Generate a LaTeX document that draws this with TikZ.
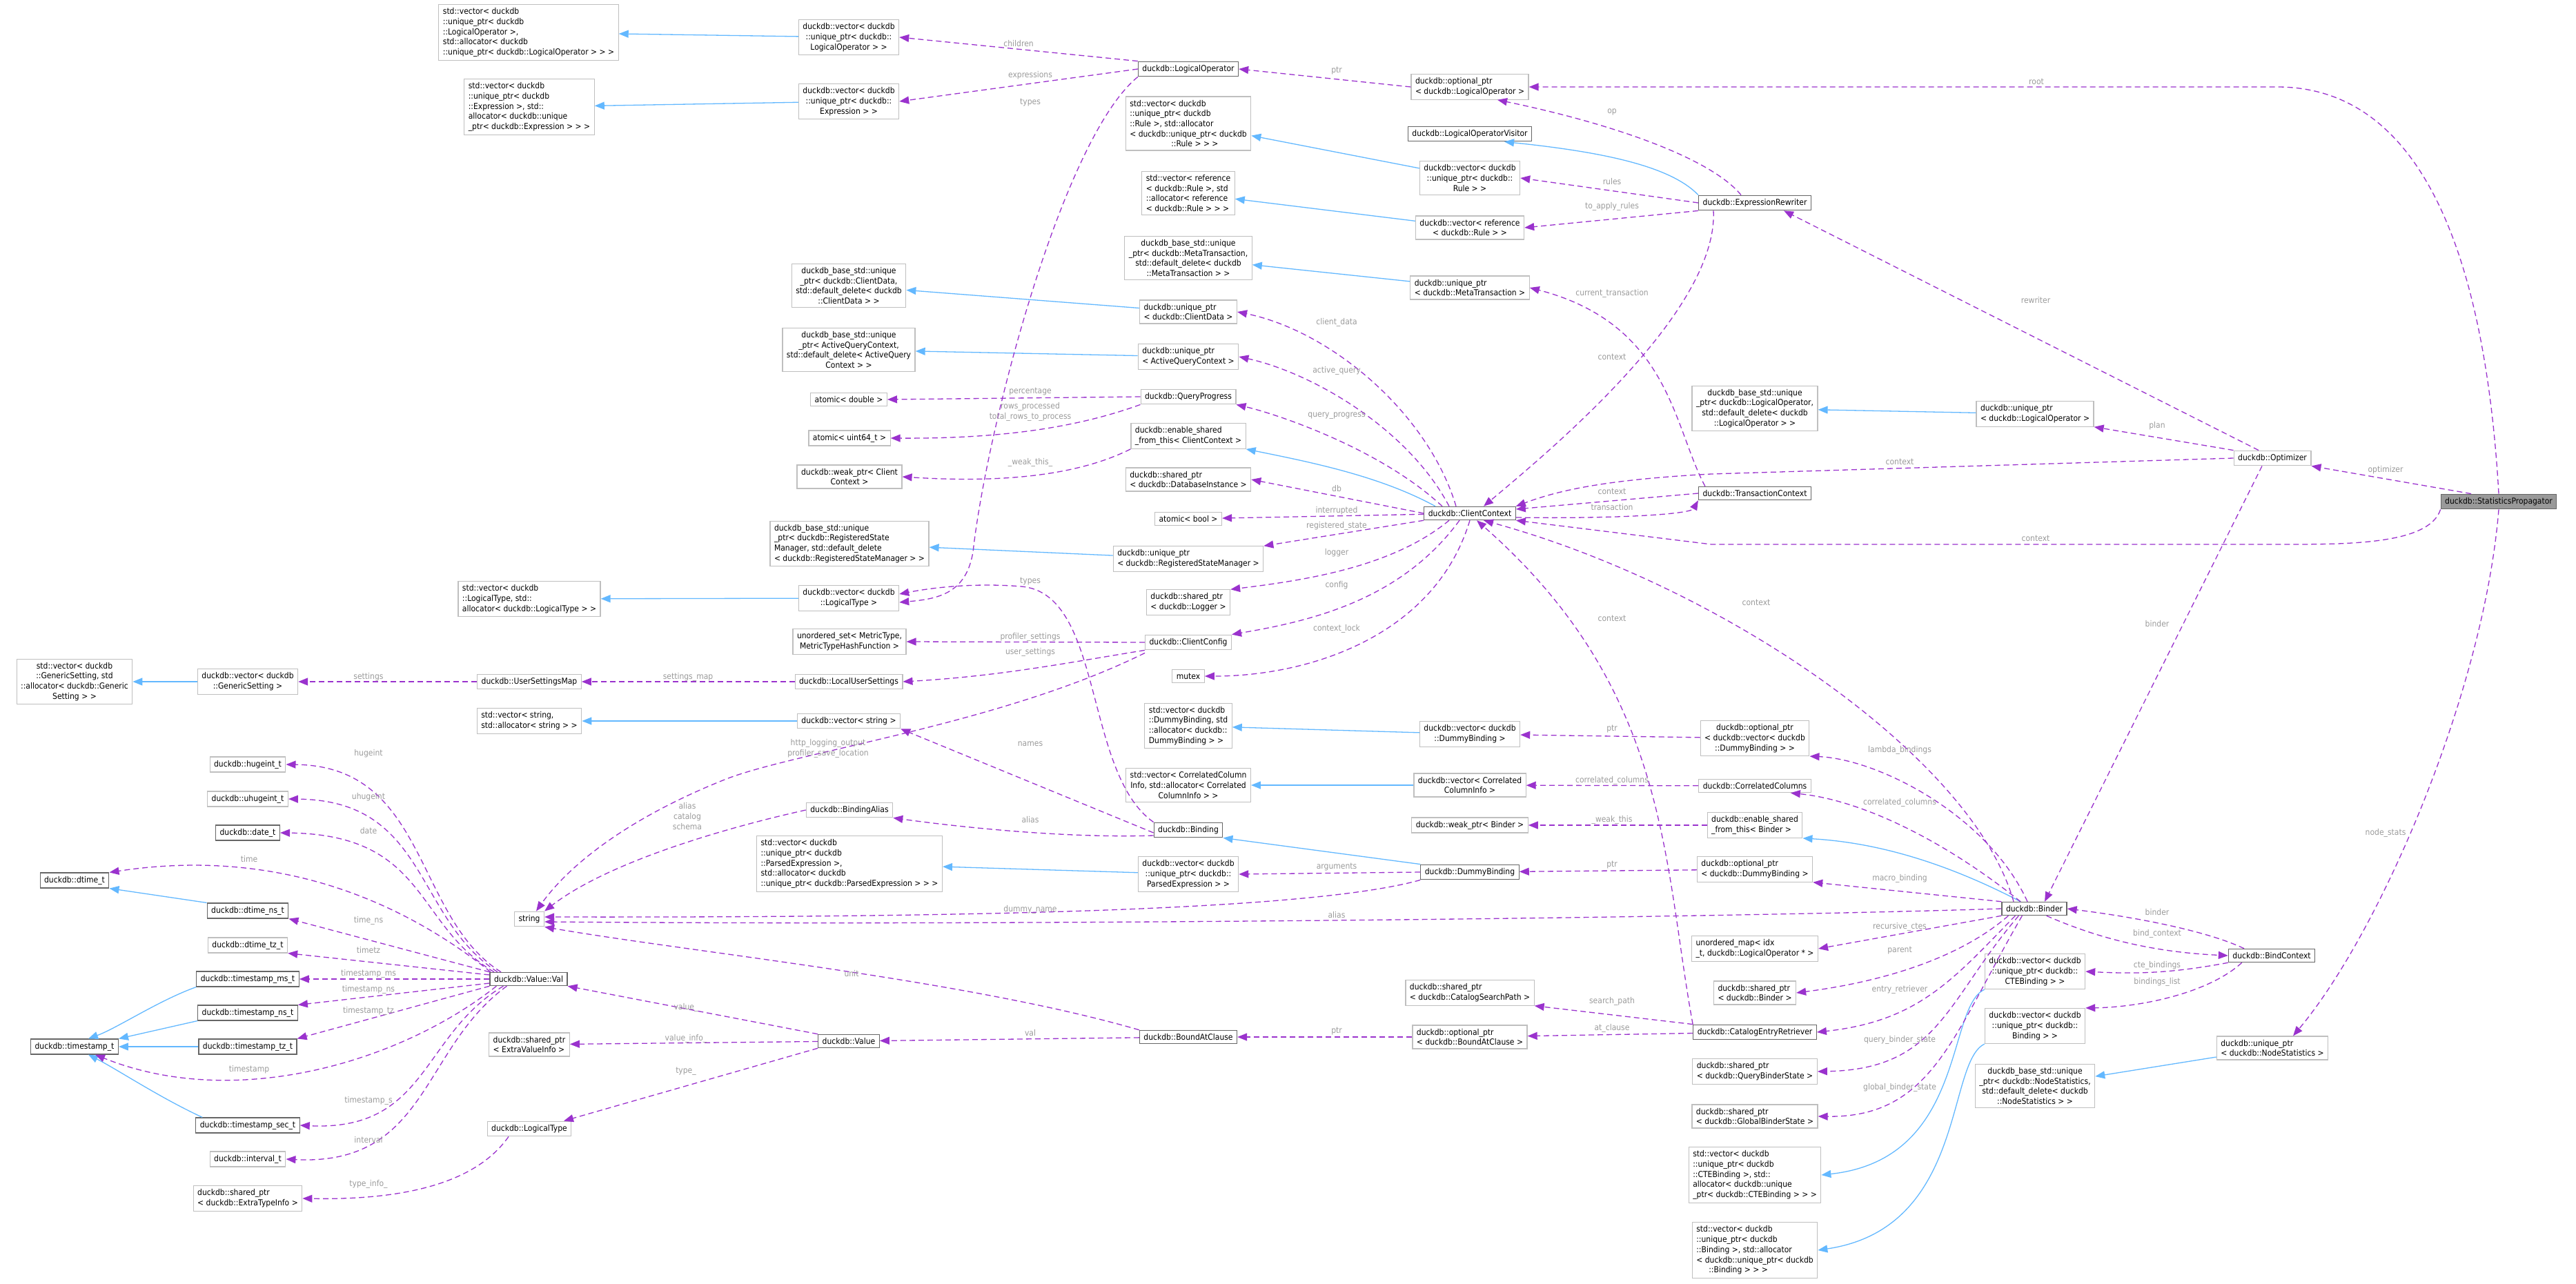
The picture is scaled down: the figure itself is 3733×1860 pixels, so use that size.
\documentclass[tikz,border=0pt]{standalone}
\usepackage{fontspec}
\setmainfont{DejaVu Sans}[FakeStretch=0.9]
\usetikzlibrary{arrows.meta}
\definecolor{depc}{HTML}{9A32CD}
\definecolor{inhc}{HTML}{63B8FF}
\definecolor{lblc}{HTML}{9A9A9A}
\definecolor{boxc}{HTML}{BFBFBF}
\definecolor{darkc}{HTML}{666666}
\definecolor{spc}{HTML}{999999}
\begin{document}
\begin{tikzpicture}[x=1pt,y=-1pt,
  every node/.style={font=\fontsize{12}{14.7}\selectfont},
  box/.style={draw=boxc,line width=1.2pt,fill=white,inner xsep=6pt,inner ysep=5pt,align=center},
  lbox/.style={box,align=left},
  cls/.style={box,draw=darkc},
  dep/.style={draw=depc,line width=1.3pt,dash pattern=on 8pt off 5pt,-{Triangle[length=14pt,width=11pt,fill=depc]}},
  inh/.style={draw=inhc,line width=1.3pt,-{Triangle[length=14pt,width=11pt,fill=inhc]}},
  lbl/.style={text=lblc,inner sep=1pt,align=center}]
\useasboundingbox (0,0) rectangle (3733,1860);
% ---------- nodes ----------
\node[lbox] (LOstd) at (766,47) {std::vector< duckdb\\::unique\_ptr< duckdb\\::LogicalOperator >,\\ std::allocator< duckdb\\::unique\_ptr< duckdb::LogicalOperator > > >};
\node[lbox] (ExprStd) at (767,155) {std::vector< duckdb\\::unique\_ptr< duckdb\\::Expression >, std::\\allocator< duckdb::unique\\\_ptr< duckdb::Expression > > >};
\node[box] (vecLO) at (1230,54) {duckdb::vector< duckdb\\::unique\_ptr< duckdb::\\LogicalOperator > >};
\node[box] (vecExpr) at (1230,147) {duckdb::vector< duckdb\\::unique\_ptr< duckdb::\\Expression > >};
\node[cls] (LO) at (1722,100) {duckdb::LogicalOperator};
\node[lbox] (optLO) at (2130,126) {duckdb::optional\_ptr\\< duckdb::LogicalOperator >};
\node[cls] (LOV) at (2130,194) {duckdb::LogicalOperatorVisitor};
\node[lbox] (vecRuleStd) at (1722,179) {std::vector< duckdb\\::unique\_ptr< duckdb\\::Rule >, std::allocator\\< duckdb::unique\_ptr< duckdb\\\hspace*{5em}::Rule > > >};
\node[box] (vecUR) at (2130,258) {duckdb::vector< duckdb\\::unique\_ptr< duckdb::\\Rule > >};
\node[lbox] (vecRRStd) at (1722,280) {std::vector< reference\\< duckdb::Rule >, std\\::allocator< reference\\< duckdb::Rule > > >};
\node[box] (vecRR) at (2130,330) {duckdb::vector< reference\\< duckdb::Rule > >};
\node[cls] (ER) at (2543,294) {duckdb::ExpressionRewriter};
\node[box] (baseMT) at (1722,374) {duckdb\_base\_std::unique\\\_ptr< duckdb::MetaTransaction,\\std::default\_delete< duckdb\\::MetaTransaction > >};
\node[lbox] (uMT) at (2130,417) {duckdb::unique\_ptr\\< duckdb::MetaTransaction >};
\node[box] (baseCD) at (1230,414) {duckdb\_base\_std::unique\\\_ptr< duckdb::ClientData,\\std::default\_delete< duckdb\\::ClientData > >};
\node[lbox] (uCD) at (1722,452) {duckdb::unique\_ptr\\< duckdb::ClientData >};
\node[box] (baseAQC) at (1230,507) {duckdb\_base\_std::unique\\\_ptr< ActiveQueryContext,\\std::default\_delete< ActiveQuery\\Context > >};
\node[lbox] (uAQC) at (1722,517) {duckdb::unique\_ptr\\< ActiveQueryContext >};
\node[box] (aDouble) at (1230,579) {atomic< double >};
\node[box] (QP) at (1722,575) {duckdb::QueryProgress};
\node[box] (aU64) at (1231,635) {atomic< uint64\_t >};
\node[lbox] (esCC) at (1722,632) {duckdb::enable\_shared\\\_from\_this< ClientContext >};
\node[box] (weakCC) at (1231,691) {duckdb::weak\_ptr< Client\\Context >};
\node[lbox] (sDB) at (1722,695) {duckdb::shared\_ptr\\< duckdb::DatabaseInstance >};
\node[box] (aBool) at (1722,752) {atomic< bool >};
\node[cls] (CC) at (2130,744) {duckdb::ClientContext};
\node[cls] (TC) at (2543,715) {duckdb::TransactionContext};
\node[box] (baseLO) at (2543,592) {duckdb\_base\_std::unique\\\_ptr< duckdb::LogicalOperator,\\std::default\_delete< duckdb\\::LogicalOperator > >};
\node[lbox] (uLO) at (2949,600) {duckdb::unique\_ptr\\< duckdb::LogicalOperator >};
\node[box] (Opt) at (3293,664) {duckdb::Optimizer};
\node[box,draw=darkc,fill=spc] (SP) at (3621,727) {duckdb::StatisticsPropagator};
\node[lbox] (baseRSM) at (1231,788) {duckdb\_base\_std::unique\\\_ptr< duckdb::RegisteredState\\Manager, std::default\_delete\\< duckdb::RegisteredStateManager > >};
\node[lbox] (uRSM) at (1722,810) {duckdb::unique\_ptr\\< duckdb::RegisteredStateManager >};
\node[lbox] (vecLTstd) at (767,868) {std::vector< duckdb\\::LogicalType, std::\\allocator< duckdb::LogicalType > >};
\node[box] (vecLT) at (1230,867) {duckdb::vector< duckdb\\::LogicalType >};
\node[lbox] (sLog) at (1722,873) {duckdb::shared\_ptr\\< duckdb::Logger >};
\node[box] (uSet) at (1231,930) {unordered\_set< MetricType,\\MetricTypeHashFunction >};
\node[box] (CCfg) at (1722,931) {duckdb::ClientConfig};
\node[box] (vecGSstd) at (108,988) {std::vector< duckdb\\::GenericSetting, std\\::allocator< duckdb::Generic\\Setting > >};
\node[box] (vecGS) at (359,988) {duckdb::vector< duckdb\\::GenericSetting >};
\node[box] (USM) at (767,988) {duckdb::UserSettingsMap};
\node[box] (LUS) at (1230,988) {duckdb::LocalUserSettings};
\node[box] (mutex) at (1722,980) {mutex};
\node[lbox] (vecStrStd) at (767,1045) {std::vector< string,\\ std::allocator< string > >};
\node[box] (vecStr) at (1230,1045) {duckdb::vector< string >};
\node[lbox] (vecDStd) at (1722,1052) {std::vector< duckdb\\::DummyBinding, std\\::allocator< duckdb::\\DummyBinding > >};
\node[box] (vecD) at (2130,1064) {duckdb::vector< duckdb\\::DummyBinding >};
\node[box] (optDV) at (2543,1070) {duckdb::optional\_ptr\\< duckdb::vector< duckdb\\::DummyBinding > >};
\node[box] (huge) at (359,1108) {duckdb::hugeint\_t};
\node[box] (uhuge) at (359,1158) {duckdb::uhugeint\_t};
\node[cls] (date) at (359,1207) {duckdb::date\_t};
\node[box] (vecCStd) at (1722,1138) {std::vector< CorrelatedColumn\\Info, std::allocator< Correlated\\ColumnInfo > >};
\node[box] (vecC) at (2130,1138) {duckdb::vector< Correlated\\ColumnInfo >};
\node[box] (CorrC) at (2543,1139) {duckdb::CorrelatedColumns};
\node[box] (BAlias) at (1231,1174) {duckdb::BindingAlias};
\node[box] (weakB) at (2130,1196) {duckdb::weak\_ptr< Binder >};
\node[lbox] (esB) at (2543,1196) {duckdb::enable\_shared\\\_from\_this< Binder >};
\node[cls] (Binding) at (1722,1203) {duckdb::Binding};
\node[lbox] (vecPStd) at (1231,1252) {std::vector< duckdb\\::unique\_ptr< duckdb\\::ParsedExpression >,\\ std::allocator< duckdb\\::unique\_ptr< duckdb::ParsedExpression > > >};
\node[box] (vecP) at (1722,1267) {duckdb::vector< duckdb\\::unique\_ptr< duckdb::\\ParsedExpression > >};
\node[cls] (DB) at (2130,1264) {duckdb::DummyBinding};
\node[lbox] (optD) at (2543,1260) {duckdb::optional\_ptr\\< duckdb::DummyBinding >};
\node[cls] (dtime) at (108,1276) {duckdb::dtime\_t};
\node[cls] (dtimens) at (359,1320) {duckdb::dtime\_ns\_t};
\node[box] (dtimetz) at (359,1370) {duckdb::dtime\_tz\_t};
\node[cls] (tsms) at (359,1419) {duckdb::timestamp\_ms\_t};
\node[cls] (tsns) at (359,1468) {duckdb::timestamp\_ns\_t};
\node[cls] (tstz) at (359,1517) {duckdb::timestamp\_tz\_t};
\node[cls] (ts) at (108,1517) {duckdb::timestamp\_t};
\node[cls] (tssec) at (359,1631) {duckdb::timestamp\_sec\_t};
\node[box] (intv) at (359,1680) {duckdb::interval\_t};
\node[lbox] (sETI) at (359,1737) {duckdb::shared\_ptr\\< duckdb::ExtraTypeInfo >};
\node[box] (string) at (767,1332) {string};
\node[cls] (VV) at (766,1419) {duckdb::Value::Val};
\node[lbox] (sEVI) at (767,1514) {duckdb::shared\_ptr\\< ExtraValueInfo >};
\node[box] (LT) at (767,1636) {duckdb::LogicalType};
\node[cls] (Value) at (1230,1509) {duckdb::Value};
\node[cls] (BAC) at (1722,1503) {duckdb::BoundAtClause};
\node[lbox] (optBAC) at (2130,1503) {duckdb::optional\_ptr\\< duckdb::BoundAtClause >};
\node[lbox] (sCSP) at (2130,1439) {duckdb::shared\_ptr\\< duckdb::CatalogSearchPath >};
\node[cls] (CER) at (2543,1496) {duckdb::CatalogEntryRetriever};
\node[lbox] (uMap) at (2543,1375) {unordered\_map< idx\\\_t, duckdb::LogicalOperator * >};
\node[lbox] (sBinder) at (2543,1439) {duckdb::shared\_ptr\\< duckdb::Binder >};
\node[lbox] (sQBS) at (2543,1553) {duckdb::shared\_ptr\\< duckdb::QueryBinderState >};
\node[lbox] (sGBS) at (2543,1618) {duckdb::shared\_ptr\\< duckdb::GlobalBinderState >};
\node[lbox] (vecCTEStd) at (2543,1703) {std::vector< duckdb\\::unique\_ptr< duckdb\\::CTEBinding >, std::\\allocator< duckdb::unique\\\_ptr< duckdb::CTEBinding > > >};
\node[lbox] (vecBStd) at (2543,1812) {std::vector< duckdb\\::unique\_ptr< duckdb\\::Binding >, std::allocator\\< duckdb::unique\_ptr< duckdb\\\hspace*{1.5em}::Binding > > >};
\node[cls] (Binder) at (2948,1317) {duckdb::Binder};
\node[cls] (BC) at (3292,1385) {duckdb::BindContext};
\node[box] (vecCTE) at (2949,1408) {duckdb::vector< duckdb\\::unique\_ptr< duckdb::\\CTEBinding > >};
\node[box] (vecB) at (2949,1487) {duckdb::vector< duckdb\\::unique\_ptr< duckdb::\\Binding > >};
\node[lbox] (uNS) at (3293,1519) {duckdb::unique\_ptr\\< duckdb::NodeStatistics >};
\node[box] (baseNS) at (2949,1574) {duckdb\_base\_std::unique\\\_ptr< duckdb::NodeStatistics,\\std::default\_delete< duckdb\\::NodeStatistics > >};
% ---------- inheritance ----------
\draw[inh] (vecLO) -- (LOstd);
\draw[inh] (vecExpr) -- (ExprStd);
\draw[inh] (vecUR) -- (vecRuleStd);
\draw[inh] (vecRR) -- (vecRRStd);
\draw[inh] (uMT) -- (baseMT);
\draw[inh] (uCD) -- (baseCD);
\draw[inh] (uAQC) -- (baseAQC);
\draw[inh] (ER.north west) .. controls (2420,240) and (2320,220) .. ([xshift=50]LOV.south);
\draw[inh] ([xshift=-50]CC.north) .. controls (2000,690) and (1900,670) .. (esCC.south east);
\draw[inh] (uRSM) -- (baseRSM);
\draw[inh] (vecLT) -- (vecLTstd);
\draw[inh] (vecGS) -- (vecGSstd);
\draw[inh] (vecStr) -- (vecStrStd);
\draw[inh] (uLO) -- (baseLO);
\draw[inh] (vecD) -- (vecDStd);
\draw[inh] (vecC) -- (vecCStd);
\draw[inh] ([xshift=-20]Binder.north) .. controls (2800,1240) and (2700,1220) .. (esB.south east);
\draw[inh] (DB.north west) -- (Binding.south east);
\draw[inh] (vecP) -- (vecPStd);
\draw[inh] (uNS) -- (baseNS);
\draw[inh] (vecCTE.south west) .. controls (2820,1460) and (2850,1680) .. (vecCTEStd.east);
\draw[inh] (vecB.south west) .. controls (2820,1540) and (2850,1780) .. (vecBStd.east);
\draw[inh] (dtimens.north west) -- (dtime.south east);
\draw[inh] (tsms.south west) .. controls (230,1450) and (170,1490) .. ([xshift=20]ts.north);
\draw[inh] (tsns.south west) -- (ts.north east);
\draw[inh] (tstz) -- (ts);
\draw[inh] ([xshift=10]tssec.north west) .. controls (230,1590) and (170,1550) .. ([xshift=20]ts.south);
% ---------- dependencies ----------
\draw[dep] (LO.north west) -- (vecLO.east) node[lbl,pos=0.5,above=2pt] (l1) {children};
\draw[dep] (LO.west) -- (vecExpr.east);
\node[lbl] (l2) at (1493,109) {expressions};
\draw[dep] (LO.south west) .. controls (1540,200) and (1430,620) .. (1410,800) .. controls (1400,860) and (1360,868) .. ([yshift=-6]vecLT.east);
\node[lbl] (l3) at (1493,149) {types};
\draw[dep] (optLO.west) -- (LO.east);
\node[lbl] (l4) at (1937,103) {ptr};
\draw[dep] (SP.north) .. controls (3600,350) and (3500,126) .. (3300,126) -- (optLO.east);
\node[lbl] (l5) at (2951,118) {root};
\draw[dep] ([xshift=-20]ER.north) .. controls (2480,230) and (2340,180) .. ([xshift=40]optLO.south);
\node[lbl] (l6) at (2336,162) {op};
\draw[dep] (ER.west) -- (vecUR.east);
\node[lbl] (l7) at (2336,263) {rules};
\draw[dep] (ER.south west) -- (vecRR.east);
\node[lbl] (l8) at (2336,299) {to\_apply\_rules};
\draw[dep] ([xshift=-60]ER.south) .. controls (2490,450) and (2250,650) .. ([xshift=20]CC.north);
\node[lbl] (l9) at (2336,517) {context};
\draw[dep] ([xshift=10]TC.north west) .. controls (2425,620) and (2420,470) .. (uMT.east);
\node[lbl] (l10) at (2336,425) {current\_transaction};
\draw[dep] ([xshift=-20]CC.north) .. controls (2070,600) and (1930,480) .. (uCD.east);
\node[lbl] (l11) at (1937,467) {client\_data};
\draw[dep] ([xshift=-30]CC.north) .. controls (2040,620) and (1900,540) .. (uAQC.east);
\node[lbl] (l12) at (1937,537) {active\_query};
\draw[dep] ([xshift=-40]CC.north) .. controls (2000,650) and (1850,600) .. (QP.south east);
\node[lbl] (l13) at (1937,603) {query\_progress};
\draw[dep] (QP.west) -- (aDouble.east);
\node[lbl] (l14) at (1493,568) {percentage};
\draw[dep] (QP.south west) .. controls (1560,620) and (1450,636) .. (aU64.east);
\node[lbl] (l15) at (1493,597) {rows\_processed\\total\_rows\_to\_process};
\draw[dep] (esCC.south west) .. controls (1560,690) and (1450,700) .. (weakCC.east);
\node[lbl] (l16) at (1493,670) {\_weak\_this\_};
\draw[dep] (CC.west) -- (sDB.east);
\node[lbl] (l17) at (1937,708) {db};
\draw[dep] (CC) -- (aBool);
\node[lbl] (l18) at (1937,740) {interrupted};
\draw[dep] (CC.south west) -- (uRSM.north east);
\node[lbl] (l19) at (1937,762) {registered\_state};
\draw[dep] ([xshift=-30]CC.south) .. controls (2020,820) and (1900,840) .. (sLog.north east);
\node[lbl] (l20) at (1937,801) {logger};
\draw[dep] ([xshift=-15]CC.south) .. controls (2030,870) and (1900,900) .. (CCfg.north east);
\node[lbl] (l21) at (1937,848) {config};
\draw[dep] (CC.south) .. controls (2080,920) and (1900,980) .. (mutex.east);
\node[lbl] (l22) at (1937,911) {context\_lock};
\draw[dep] ([yshift=-6]CC.east) .. controls (2350,752) and (2450,745) .. (TC.south west);
\node[lbl] (l23) at (2336,735) {transaction};
\draw[dep] (TC.west) -- ([yshift=6]CC.east);
\node[lbl] (l24) at (2336,712) {context};
\draw[dep] (Opt.west) -- (2480,687) .. controls (2330,695) and (2260,710) .. (CC.north east);
\node[lbl] (l25) at (2753,669) {context};
\draw[dep] (SP.south west) .. controls (3520,790) and (3400,789) .. (3300,789) -- (2480,789) -- (CC.south east);
\node[lbl] (l26) at (2950,780) {context};
\draw[dep] ([xshift=-30]Binder.north) .. controls (2860,1100) and (2500,850) .. ([xshift=20]CC.south);
\node[lbl] (l27) at (2545,873) {context};
\draw[dep] (CER.north west) .. controls (2410,1250) and (2420,1000) .. ([xshift=10]CC.south);
\node[lbl] (l28) at (2336,896) {context};
\draw[dep] (Opt.north west) -- (uLO.south east);
\node[lbl] (l29) at (3126,617) {plan};
\draw[dep] ([xshift=-20]Opt.north) -- ([xshift=-40]ER.south east);
\node[lbl] (l30) at (2950,435) {rewriter};
\draw[dep] ([xshift=-15]Opt.south) -- ([xshift=15]Binder.north);
\node[lbl] (l31) at (3126,904) {binder};
\draw[dep] ([xshift=-40]SP.north) -- (Opt.south east);
\node[lbl] (l32) at (3457,681) {optimizer};
\draw[dep] (SP.south) .. controls (3600,1000) and (3450,1350) .. ([xshift=30]uNS.north);
\node[lbl] (l33) at (3457,1207) {node\_stats};
\draw[dep] (CCfg.west) -- (uSet.east);
\node[lbl] (l34) at (1493,923) {profiler\_settings};
\draw[dep] (CCfg.south west) .. controls (1550,960) and (1450,980) .. (LUS.east);
\node[lbl] (l35) at (1493,945) {user\_settings};
\draw[dep] ([yshift=-4]CCfg.south west) .. controls (1450,1050) and (1150,1090) .. (1050,1130) .. controls (900,1190) and (820,1260) .. ([xshift=10]string.north);
\node[lbl] (l36) at (1200,1085) {http\_logging\_output\\profiler\_save\_location};
\draw[dep] (LUS) -- (USM);
\node[lbl] (l37) at (997,981) {settings\_map};
\draw[dep] (USM) -- (vecGS);
\node[lbl] (l38) at (534,981) {settings};
\draw[dep] (Binding.north west) .. controls (1570,1120) and (1600,860) .. (1480,850) .. controls (1420,845) and (1360,850) .. ([yshift=6]vecLT.east);
\node[lbl] (l39) at (1493,843) {types};
\draw[dep] ([yshift=-4]Binding.west) -- (vecStr.south east);
\node[lbl] (l40) at (1493,1078) {names};
\draw[dep] ([yshift=-8]Binding.west) .. controls (1550,1215) and (1400,1200) .. (BAlias.south east);
\node[lbl] (l41) at (1493,1188) {alias};
\draw[dep] (BAlias.west) .. controls (1050,1200) and (880,1250) .. (string.north east);
\node[lbl] (l42) at (996,1183) {alias\\catalog\\schema};
\draw[dep] (DB.west) -- (vecP.east);
\node[lbl] (l43) at (1937,1257) {arguments};
\draw[dep] (DB.south west) .. controls (1900,1320) and (1400,1330) .. ([yshift=3]string.east);
\node[lbl] (l44) at (1493,1318) {dummy\_name};
\draw[dep] (Binder.west) .. controls (2500,1330) and (1500,1342) .. ([yshift=-4]string.east);
\node[lbl] (l45) at (1937,1326) {alias};
\draw[dep] (optD) -- (DB);
\node[lbl] (l46) at (2336,1254) {ptr};
\draw[dep] (optDV) -- (vecD);
\node[lbl] (l47) at (2336,1057) {ptr};
\draw[dep] (CorrC) -- (vecC);
\node[lbl] (l48) at (2336,1131) {correlated\_columns};
\draw[dep] (esB) -- (weakB);
\node[lbl] (l49) at (2336,1188) {\_weak\_this};
\draw[dep] ([xshift=-10]Binder.north) .. controls (2880,1180) and (2720,1100) .. (optDV.south east);
\node[lbl] (l50) at (2753,1087) {lambda\_bindings};
\draw[dep] ([xshift=-20]Binder.north) .. controls (2820,1220) and (2700,1160) .. ([xshift=-30]CorrC.south east);
\node[lbl] (l51) at (2753,1163) {correlated\_columns};
\draw[dep] (Binder.north west) -- (optD.south east);
\node[lbl] (l52) at (2753,1273) {macro\_binding};
\draw[dep] (Binder.south west) -- (uMap.east);
\node[lbl] (l53) at (2753,1343) {recursive\_ctes};
\draw[dep] ([xshift=10]Binder.south west) .. controls (2850,1380) and (2750,1420) .. (sBinder.east);
\node[lbl] (l54) at (2753,1378) {parent};
\draw[dep] ([xshift=20]Binder.south west) .. controls (2830,1420) and (2780,1480) .. (CER.east);
\node[lbl] (l55) at (2753,1434) {entry\_retriever};
\draw[dep] ([xshift=25]Binder.south west) .. controls (2820,1450) and (2810,1550) .. (sQBS.east);
\node[lbl] (l56) at (2753,1507) {query\_binder\_state};
\draw[dep] ([xshift=30]Binder.south west) .. controls (2830,1500) and (2800,1620) .. (sGBS.east);
\node[lbl] (l57) at (2753,1576) {global\_binder\_state};
\draw[dep] ([xshift=-30]Binder.south east) .. controls (3040,1360) and (3120,1380) .. (BC.west);
\node[lbl] (l58) at (3126,1353) {bind\_context};
\draw[dep] ([xshift=-40]BC.north) .. controls (3200,1350) and (3100,1330) .. (Binder.east);
\node[lbl] (l59) at (3126,1322) {binder};
\draw[dep] (BC.south west) .. controls (3150,1410) and (3100,1412) .. (vecCTE.east);
\node[lbl] (l60) at (3126,1399) {cte\_bindings};
\draw[dep] ([xshift=20]BC.south west) .. controls (3200,1440) and (3100,1460) .. (vecB.north east);
\node[lbl] (l61) at (3126,1423) {bindings\_list};
\draw[dep] (CER.north west) -- (sCSP.south east);
\node[lbl] (l62) at (2336,1451) {search\_path};
\draw[dep] (CER) -- (optBAC);
\node[lbl] (l63) at (2336,1490) {at\_clause};
\draw[dep] (optBAC) -- (BAC);
\node[lbl] (l64) at (1937,1495) {ptr};
\draw[dep] (BAC) -- (Value);
\node[lbl] (l65) at (1493,1497) {val};
\draw[dep] (BAC.north west) .. controls (1400,1420) and (1000,1380) .. (string.south east);
\node[lbl] (l66) at (1234,1411) {unit};
\draw[dep] (Value.north west) -- (VV.south east);
\node[lbl] (l67) at (994,1460) {value\_};
\draw[dep] (Value) -- (sEVI);
\node[lbl] (l68) at (994,1505) {value\_info\_};
\draw[dep] (Value.south west) -- ([xshift=50]LT.north);
\node[lbl] (l69) at (994,1553) {type\_};
\draw[dep] ([xshift=-30]LT.south) .. controls (700,1700) and (620,1740) .. (sETI.east);
\node[lbl] (l70) at (534,1716) {type\_info\_};
\draw[dep] ([xshift=-40]VV.north) .. controls (600,1330) and (620,1110) .. (huge.east);
\node[lbl] (l71) at (534,1092) {hugeint};
\draw[dep] ([xshift=-45]VV.north) .. controls (600,1330) and (620,1160) .. (uhuge.east);
\node[lbl] (l72) at (534,1155) {uhugeint};
\draw[dep] ([xshift=-50]VV.north) .. controls (600,1340) and (620,1210) .. (date.east);
\node[lbl] (l73) at (534,1204) {date};
\draw[dep] ([xshift=-55]VV.north) .. controls (600,1320) and (420,1225) .. (dtime.north east);
\node[lbl] (l74) at (361,1245) {time};
\draw[dep] (VV.north west) -- (dtimens.south east);
\node[lbl] (l75) at (534,1334) {time\_ns};
\draw[dep] ([yshift=6]VV.west) -- (dtimetz.south east);
\node[lbl] (l76) at (534,1377) {timetz};
\draw[dep] (VV) -- (tsms);
\node[lbl] (l77) at (534,1411) {timestamp\_ms};
\draw[dep] ([yshift=-6]VV.west) -- (tsns.north east);
\node[lbl] (l78) at (534,1434) {timestamp\_ns};
\draw[dep] (VV.south west) -- (tstz.north east);
\node[lbl] (l79) at (534,1465) {timestamp\_tz};
\draw[dep] ([xshift=10]VV.south west) .. controls (580,1540) and (340,1610) .. ([xshift=30]ts.south);
\node[lbl] (l80) at (361,1550) {timestamp};
\draw[dep] ([xshift=20]VV.south west) .. controls (610,1500) and (620,1640) .. (tssec.east);
\node[lbl] (l81) at (534,1595) {timestamp\_s};
\draw[dep] ([xshift=25]VV.south west) .. controls (610,1520) and (620,1690) .. (intv.east);
\node[lbl] (l82) at (534,1652) {interval};
\end{tikzpicture}
\end{document}
